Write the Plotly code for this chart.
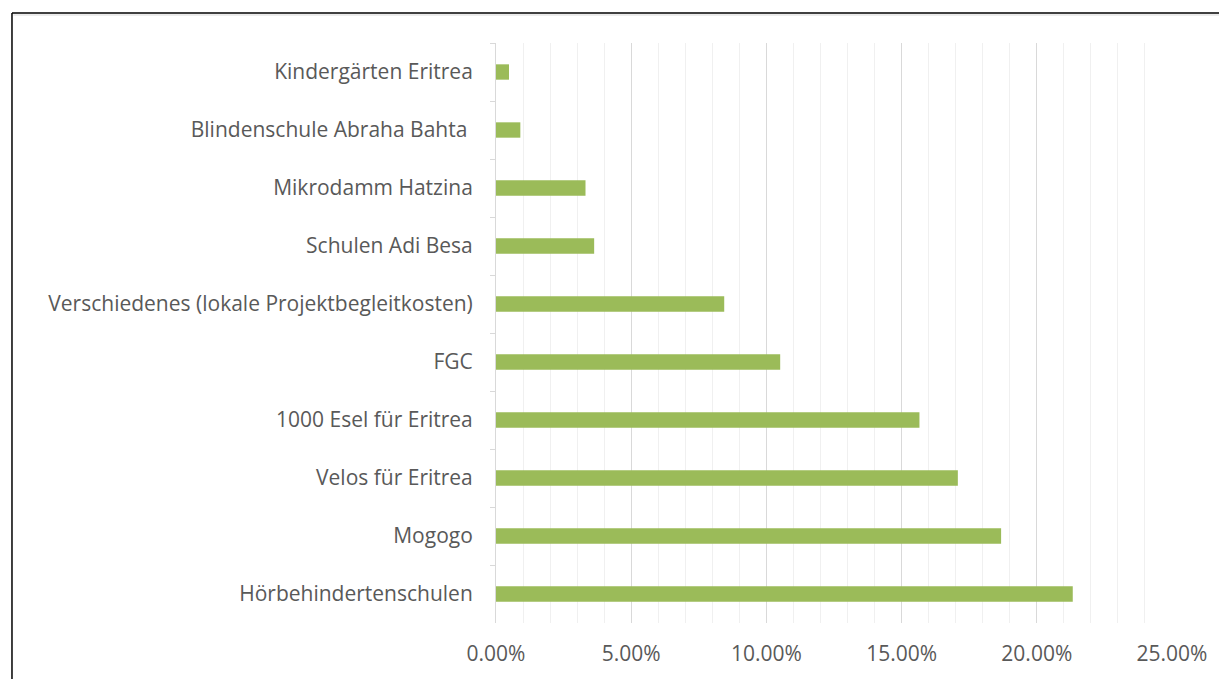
import plotly.graph_objects as go

categories = [
    "Kindergärten Eritrea",
    "Blindenschule Abraha Bahta\u00a0",
    "Mikrodamm Hatzina",
    "Schulen Adi Besa",
    "Verschiedenes (lokale Projektbegleitkosten)",
    "FGC",
    "1000 Esel für Eritrea",
    "Velos für Eritrea",
    "Mogogo",
    "Hörbehindertenschulen",
]
shares = [0.0048, 0.0090, 0.0331, 0.0363, 0.0844, 0.1051, 0.1566, 0.1708, 0.1868, 0.2133]
x_tickvals = [0.0, 0.05, 0.10, 0.15, 0.20, 0.25]

BAR = "#9BBB59"
TXT = "#595959"
FONT = "Open Sans"

fig = go.Figure(
    go.Bar(
        x=shares,
        y=categories,
        orientation="h",
        marker=dict(color=BAR, line=dict(width=0)),
        hoverinfo="x+y",
    )
)

fig.update_layout(
    width=1219,
    height=679,
    margin=dict(l=496, r=43, t=43, b=56),
    paper_bgcolor="white",
    plot_bgcolor="white",
    bargap=0.735,
    showlegend=False,
    font=dict(family=FONT, size=21, color=TXT),
    shapes=[
        dict(type="line", xref="paper", yref="paper",
             x0=-0.716, x1=1.08, y0=1.0517, y1=1.0517,
             line=dict(color="#000000", width=1.5)),
        dict(type="line", xref="paper", yref="paper",
             x0=-0.714, x1=1.08, y0=1.0483, y1=1.0483,
             line=dict(color="#d9d9d9", width=1)),
        dict(type="line", xref="paper", yref="paper",
             x0=-0.716, x1=-0.716, y0=1.0517, y1=-0.12,
             line=dict(color="#000000", width=1.5)),
    ],
)

fig.update_xaxes(
    range=[0, 0.25],
    tickvals=x_tickvals,
    tickformat=".2%",
    showgrid=True,
    gridcolor="#d9d9d9",
    gridwidth=1,
    minor=dict(dtick=0.01, tick0=0, showgrid=True, gridcolor="#f0f0f0", gridwidth=1),
    zeroline=False,
    showline=False,
    ticks="",
    ticklabelstandoff=16,
    tickfont=dict(family=FONT, size=21, color=TXT),
    fixedrange=True,
)

fig.update_yaxes(
    autorange="reversed",
    showgrid=False,
    showline=True,
    linecolor="#d9d9d9",
    linewidth=1,
    ticks="outside",
    tickson="boundaries",
    ticklen=5,
    tickcolor="#d9d9d9",
    ticklabelstandoff=18,
    tickfont=dict(family=FONT, size=21, color=TXT),
    fixedrange=True,
)

fig.write_html("out.html")
